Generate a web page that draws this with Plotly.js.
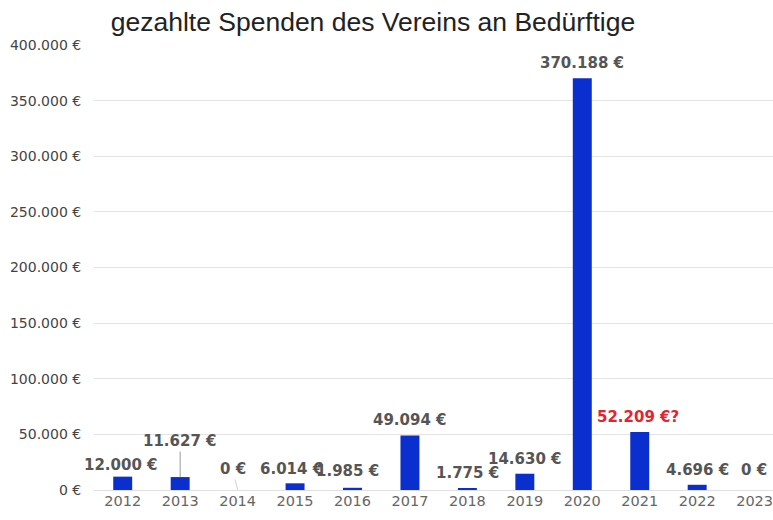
<!DOCTYPE html>
<html>
<head>
<meta charset="utf-8">
<script src="https://cdn.plot.ly/plotly-3.0.1.min.js"></script>
<style>html,body{margin:0;padding:0;background:#fff;overflow:hidden;}</style>
</head>
<body>
<div id="chart" style="width:773px;height:520px;"></div>
<script>
const EUR = "\u20AC";
// Data
const years = [2012, 2013, 2014, 2015, 2016, 2017, 2018, 2019, 2020, 2021, 2022, 2023];
const yearLabels = ["2012","2013","2014","2015","2016","2017","2018","2019","2020","2021","2022","2023"];
const amounts = [12000, 11627, 0, 6014, 1985, 49094, 1775, 14630, 370188, 52209, 4696, 0];
const labelSuffix = ["","","","","","","","","","?","",""];
const yTickVals = [0, 50000, 100000, 150000, 200000, 250000, 300000, 350000, 400000];

// Styling (label offsets in pixels, leader colours)
const labelDX = [-2, 0, -5, -4, -5, 0, 0, 0, 0, -2, 0, -1];
const labelDY = [-12, -36, -21, -14, -17, -15, -15, -15, -15, -15, -15, -20];
const leaderColor = ["rgba(0,0,0,0)", "#9a9a9a", "#d4d4d4", "rgba(0,0,0,0)", "rgba(0,0,0,0)", "rgba(0,0,0,0)",
                     "rgba(0,0,0,0)", "rgba(0,0,0,0)", "rgba(0,0,0,0)", "rgba(0,0,0,0)", "rgba(0,0,0,0)", "rgba(0,0,0,0)"];
const labelColor = ["#555","#555","#555","#555","#555","#555","#555","#555","#555","#e32430","#555","#555"];

function fmtDE(v) {
  const s = String(Math.round(v));
  let out = "";
  for (let i = 0; i < s.length; i++) {
    if (i > 0 && (s.length - i) % 3 === 0) out += ".";
    out += s[i];
  }
  return out + " " + EUR;
}

const trace = {
  type: "bar", x: years, y: amounts, width: 0.33,
  marker: {color: "#0b2fcf"}, hoverinfo: "x+y"
};

const annotations = years.map((yr, i) => ({
  x: yr, y: amounts[i], xref: "x", yref: "y",
  text: "<b>" + fmtDE(amounts[i]) + labelSuffix[i] + "</b>",
  showarrow: true, arrowhead: 0, arrowwidth: 1, arrowcolor: leaderColor[i],
  ax: labelDX[i], ay: labelDY[i],
  font: {family: "DejaVu Sans, sans-serif", size: 15, color: labelColor[i]}
}));

const layout = {
  width: 773, height: 520,
  margin: {l: 94, r: 0, t: 45, b: 30},
  paper_bgcolor: "#fff", plot_bgcolor: "#fff",
  showlegend: false,
  title: {
    text: "gezahlte Spenden des Vereins an Bed\u00fcrftige",
    font: {family: "Liberation Sans, Arial, sans-serif", size: 26.5, color: "#222"},
    xref: "container", yref: "container", x: 0.4825, y: 0.958, xanchor: "center", yanchor: "middle"
  },
  xaxis: {
    range: [years[0] - 0.5, years[0] + 11.32],
    tickmode: "array", tickvals: years, ticktext: yearLabels,
    ticklabeloverflow: "allow",
    showgrid: false, showline: false, zeroline: false, ticks: "",
    tickfont: {family: "DejaVu Sans, sans-serif", size: 14.5, color: "#666"}
  },
  yaxis: {
    range: [0, 400000],
    tickmode: "array", tickvals: yTickVals, ticktext: yTickVals.map(fmtDE),
    showgrid: true, gridcolor: "#e4e4e4", gridwidth: 1,
    zeroline: true, zerolinecolor: "#e0e0e0", zerolinewidth: 1,
    showline: false,
    ticks: "outside", ticklen: 9, tickcolor: "rgba(0,0,0,0)",
    tickfont: {family: "DejaVu Sans, sans-serif", size: 14, color: "#444"}
  },
  annotations: annotations
};

Plotly.newPlot("chart", [trace], layout, {displayModeBar: false});
</script>
</body>
</html>
